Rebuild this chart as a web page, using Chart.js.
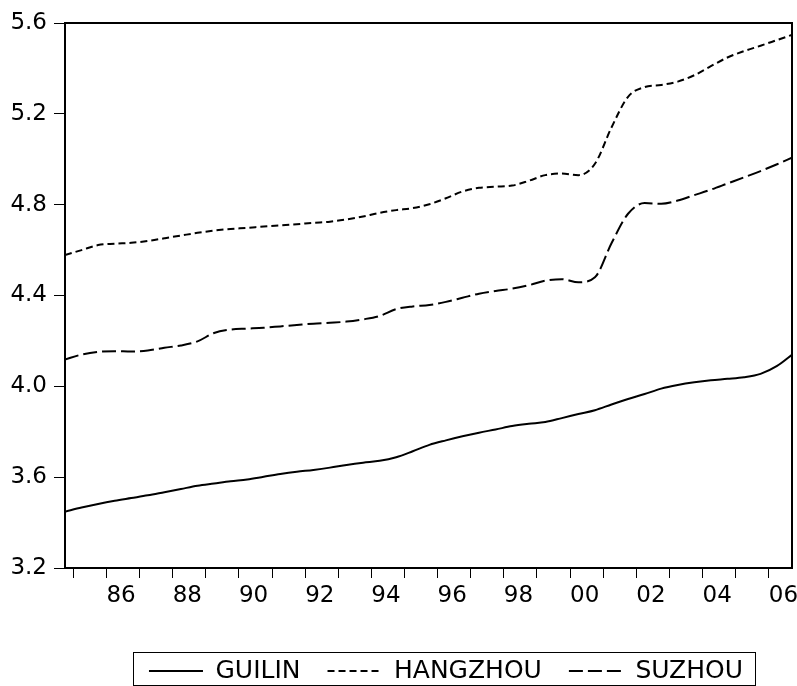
<!DOCTYPE html>
<html>
<head>
<meta charset="utf-8">
<script src="https://cdn.jsdelivr.net/npm/chart.js@4.4.1/dist/chart.umd.min.js"></script>
<style>
html,body{margin:0;padding:0;background:#fff;}
#wrap{width:797px;height:686px;position:relative;}
</style>
</head>
<body>
<div id="wrap"><canvas id="c" width="797" height="686"></canvas></div>
<script>
// Observation positions (decimal years, half-year steps)
const periods = [1984.75,1985.25,1985.75,1986.25,1986.75,1987.25,1987.75,1988.25,1988.75,1989.25,
  1989.75,1990.25,1990.75,1991.25,1991.75,1992.25,1992.75,1993.25,1993.75,1994.25,
  1994.75,1995.25,1995.75,1996.25,1996.75,1997.25,1997.75,1998.25,1998.75,1999.25,
  1999.75,2000.25,2000.75,2001.25,2001.75,2002.25,2002.75,2003.25,2003.75,2004.25,
  2004.75,2005.25,2005.75,2006.25,2006.75];

const guilin = [3.448,3.466,3.482,3.496,3.508,3.520,3.534,3.548,3.562,3.572,
  3.582,3.590,3.602,3.614,3.624,3.632,3.642,3.654,3.664,3.672,
  3.688,3.714,3.742,3.762,3.780,3.796,3.810,3.825,3.835,3.843,
  3.860,3.878,3.895,3.920,3.944,3.966,3.990,4.006,4.018,4.027,
  4.033,4.040,4.055,4.090,4.145];

const hangzhou = [4.578,4.600,4.622,4.628,4.632,4.640,4.652,4.664,4.676,4.686,
  4.693,4.698,4.704,4.709,4.714,4.720,4.725,4.735,4.748,4.764,
  4.776,4.785,4.802,4.828,4.858,4.874,4.879,4.884,4.905,4.930,
  4.937,4.930,4.980,5.140,5.275,5.318,5.327,5.342,5.370,5.410,
  5.448,5.476,5.500,5.525,5.550];

const suzhou = [4.118,4.140,4.152,4.155,4.153,4.158,4.170,4.180,4.198,4.235,
  4.250,4.254,4.258,4.264,4.270,4.276,4.280,4.285,4.295,4.310,
  4.340,4.352,4.358,4.372,4.390,4.408,4.420,4.430,4.445,4.465,
  4.472,4.458,4.480,4.630,4.760,4.807,4.804,4.818,4.842,4.866,
  4.893,4.920,4.948,4.978,5.010];

const tickYears = [1985,1986,1987,1988,1989,1990,1991,1992,1993,1994,1995,
  1996,1997,1998,1999,2000,2001,2002,2003,2004,2005,2006];
const yTicks = [3.2,3.6,4.0,4.4,4.8,5.2,5.6];
const seriesNames = ['GUILIN','HANGZHOU','SUZHOU'];

const FONT = '"DejaVu Sans", Verdana, sans-serif';
const LEG_FS = 25, LEG_PAD = 27, LEG_CX = 446, LEG_CY = 671;

function pts(vals){ return vals.map((v,i)=>({x: periods[i], y: v})); }

const framePlugin = {
  id: 'frame',
  afterLayout(chart){
    const lg = chart.legend;
    if (lg) {
      const dy = LEG_CY - (lg.top + LEG_PAD + LEG_FS/2);
      lg.top += dy; lg.bottom += dy;
      const dx = LEG_CX - (lg.left + lg.right)/2;
      lg.left += dx; lg.right += dx;
    }
  },
  afterDraw(chart){
    const ctx = chart.ctx, a = chart.chartArea;
    ctx.save();
    ctx.strokeStyle = '#000';
    ctx.lineWidth = 2;
    ctx.strokeRect(a.left, a.top, a.right - a.left, a.bottom - a.top);
    const hb = chart.legend && chart.legend.legendHitBoxes;
    if (hb && hb.length){
      const l = Math.round(hb[0].left - 16) + 0.5;
      const last = hb[hb.length-1];
      const r = Math.round(last.left + last.width + 12) + 0.5;
      ctx.lineWidth = 1;
      ctx.strokeRect(l, 652.5, r - l, 33);
    }
    ctx.restore();
  }
};

new Chart(document.getElementById('c'), {
  type: 'line',
  data: {
    datasets: [
      {label: seriesNames[0], data: pts(guilin), borderColor:'#000', borderWidth:2, borderDash:[], pointRadius:0, cubicInterpolationMode:'monotone', fill:false},
      {label: seriesNames[1], data: pts(hangzhou), borderColor:'#000', borderWidth:2, borderDash:[7,4], pointRadius:0, cubicInterpolationMode:'monotone', fill:false},
      {label: seriesNames[2], data: pts(suzhou), borderColor:'#000', borderWidth:2, borderDash:[14,5], pointRadius:0, cubicInterpolationMode:'monotone', fill:false}
    ]
  },
  options: {
    responsive: false,
    animation: false,
    devicePixelRatio: 1,
    layout: {padding: {left: 0, top: 23, right: 5, bottom: 8}},
    scales: {
      x: {
        type: 'linear',
        min: 1984.75,
        max: 2006.7,
        afterBuildTicks(scale){ scale.ticks = tickYears.map(v=>({value:v})); },
        afterFit(scale){ scale.height = 48; scale.paddingRight = 0; scale.paddingLeft = 0; },
        grid: {display: true, drawOnChartArea: false, drawTicks: true, tickLength: 10, color: '#000', lineWidth: 1},
        border: {display: false},
        ticks: {
          autoSkip: false, maxRotation: 0, minRotation: 0, align: 'start', padding: 4,
          color: '#000', font: {family: FONT, size: 23},
          callback(v){ return (v % 2 === 0) ? String(v).slice(2) : ''; }
        }
      },
      y: {
        min: 3.2,
        max: 5.6,
        afterBuildTicks(scale){ scale.ticks = yTicks.map(v=>({value:v})); },
        afterFit(scale){ scale.width = 65; },
        grid: {display: true, drawOnChartArea: false, drawTicks: true, tickLength: 11, color: '#000', lineWidth: 1},
        border: {display: false},
        ticks: {
          padding: 7, color: '#000', font: {family: FONT, size: 23},
          callback(v){ return Number(v).toFixed(1); }
        }
      }
    },
    plugins: {
      tooltip: {enabled: false},
      legend: {
        display: true,
        position: 'bottom',
        labels: {
          usePointStyle: true,
          pointStyle: 'line',
          pointStyleWidth: 54,
          boxHeight: LEG_FS,
          padding: LEG_PAD,
          color: '#000',
          font: {family: FONT, size: LEG_FS},
          generateLabels(chart){
            return chart.data.datasets.map((ds,i)=>({
              text: ds.label,
              fillStyle: 'rgba(0,0,0,0)',
              strokeStyle: ds.borderColor,
              fontColor: '#000',
              lineWidth: ds.borderWidth,
              lineDash: ds.borderDash || [],
              pointStyle: 'line',
              hidden: false,
              datasetIndex: i
            }));
          }
        }
      }
    }
  },
  plugins: [framePlugin]
});
</script>
</body>
</html>
